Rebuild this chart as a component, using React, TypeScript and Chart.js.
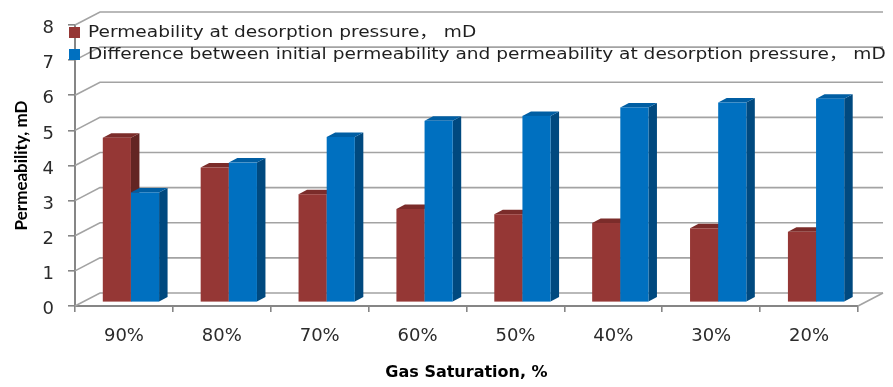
import React, { useEffect, useRef } from "react";
import { Chart, registerables } from "chart.js";

Chart.register(...registerables);

// Gas saturation categories and permeability values (mD)
const categories = ["90%", "80%", "70%", "60%", "50%", "40%", "30%", "20%"];
const desorptionPerm = [4.69, 3.84, 3.08, 2.66, 2.51, 2.26, 2.11, 2.01];
const permDifference = [3.13, 3.98, 4.71, 5.17, 5.31, 5.55, 5.69, 5.8];
const seriesLabels = [
  "Permeability at desorption pressure， mD",
  "Difference between initial permeability and permeability at desorption pressure， mD",
];
const yMin = 0;
const yMax = 8;
const yStep = 1;

// Face colours for the 3D columns: front, top, side
const redFaces = ["#953735", "#7b2c2a", "#632523"];
const blueFaces = ["#0070c0", "#005ea3", "#00497f"];

const FONT = "'DejaVu Sans', 'Noto Sans CJK SC'";

// Depth of the back wall and of the columns
const WALL_DX = 25;
const WALL_DY = -13;
const BAR_SHIFT_X = 7;
const BAR_SHIFT_Y = -3.6;
const BAR_DX = 8.5;
const BAR_DY = -4.5;

// Legend text is drawn slightly widened
const LEGEND_STRETCH = 1.16;

const faceSets = [redFaces, blueFaces];

const box3d = {
  id: "box3d",
  beforeDatasetsDraw(chart: any) {
    const { ctx, chartArea, scales } = chart;
    const y = scales.y;
    ctx.save();
    ctx.strokeStyle = "#a3a3a3";
    ctx.lineWidth = 1.6;
    y.ticks.forEach((t: any) => {
      const py = y.getPixelForValue(t.value);
      ctx.beginPath();
      ctx.moveTo(chartArea.left, py);
      ctx.lineTo(chartArea.left + WALL_DX, py + WALL_DY);
      ctx.lineTo(chartArea.right + WALL_DX, py + WALL_DY);
      ctx.stroke();
    });
    ctx.beginPath();
    ctx.moveTo(chartArea.right, chartArea.bottom);
    ctx.lineTo(chartArea.right + WALL_DX, chartArea.bottom + WALL_DY);
    ctx.stroke();
    ctx.restore();
  },
  beforeDatasetDraw() {
    return false;
  },
  afterDatasetsDraw(chart: any) {
    const ctx = chart.ctx;
    const n = chart.data.labels.length;
    ctx.save();
    for (let i = 0; i < n; i++) {
      chart.data.datasets.forEach((_ds: any, d: number) => {
        const el = chart.getDatasetMeta(d).data[i];
        const { x, y, base, width } = el.getProps(["x", "y", "base", "width"], true);
        const [front, top, side] = faceSets[d];
        const l = x - width / 2 + BAR_SHIFT_X;
        const r = x + width / 2 + BAR_SHIFT_X;
        const t = y + BAR_SHIFT_Y;
        const b = base + BAR_SHIFT_Y;
        // side face
        ctx.fillStyle = side;
        ctx.beginPath();
        ctx.moveTo(r, t);
        ctx.lineTo(r + BAR_DX, t + BAR_DY);
        ctx.lineTo(r + BAR_DX, b + BAR_DY);
        ctx.lineTo(r, b);
        ctx.closePath();
        ctx.fill();
        // top face
        ctx.fillStyle = top;
        ctx.beginPath();
        ctx.moveTo(l, t);
        ctx.lineTo(l + BAR_DX, t + BAR_DY);
        ctx.lineTo(r + BAR_DX, t + BAR_DY);
        ctx.lineTo(r, t);
        ctx.closePath();
        ctx.fill();
        // front face
        ctx.fillStyle = front;
        ctx.fillRect(l, t, r - l, b - t);
      });
    }
    ctx.restore();
  },
  afterDraw(chart: any) {
    const ctx = chart.ctx;
    const rows = [33, 55];
    chart.data.datasets.forEach((ds: any, d: number) => {
      const cy = rows[d];
      ctx.save();
      ctx.fillStyle = ds.backgroundColor;
      ctx.fillRect(69, cy - 6, 11, 11);
      ctx.translate(88, cy);
      ctx.scale(LEGEND_STRETCH, 1);
      ctx.font = `16px ${FONT}`;
      ctx.textBaseline = "middle";
      ctx.textAlign = "left";
      ctx.fillStyle = "#1f1f1f";
      ctx.fillText(ds.label, 0, 0);
      ctx.restore();
    });
  },
};

export default function App() {
  const ref = useRef<HTMLCanvasElement>(null);

  useEffect(() => {
    const canvas = ref.current;
    if (!canvas) return;
    const chart = new Chart(canvas, {
      type: "bar",
      data: {
        labels: categories,
        datasets: [
          { label: seriesLabels[0], data: desorptionPerm, backgroundColor: redFaces[0] },
          { label: seriesLabels[1], data: permDifference, backgroundColor: blueFaces[0] },
        ],
      },
      options: {
        responsive: false,
        animation: false,
        layout: { padding: { top: 25, right: 35, left: 0, bottom: 0 } },
        datasets: { bar: { categoryPercentage: 0.575, barPercentage: 1 } },
        plugins: { legend: { display: false }, tooltip: { enabled: false } },
        scales: {
          x: {
            grid: { drawOnChartArea: false, drawTicks: true, tickLength: 6, color: "#868686", lineWidth: 1.6 },
            border: { color: "#868686", width: 2 },
            ticks: { font: { family: FONT, size: 18 }, color: "#2b2b2b", padding: 14 },
            title: {
              display: true,
              text: "Gas Saturation, %",
              font: { family: FONT, size: 16, weight: "bold" },
              color: "#000000",
              padding: { top: 0, bottom: 5 },
            },
            afterFit: (s: any) => {
              s.height = 81;
            },
          },
          y: {
            min: yMin,
            max: yMax,
            ticks: {
              stepSize: yStep,
              font: { family: FONT, size: 18 },
              color: "#2b2b2b",
              padding: 14,
              labelOffset: 3.5,
            },
            grid: { drawOnChartArea: false, drawTicks: true, tickLength: 7, color: "#868686", lineWidth: 1.6 },
            border: { color: "#868686", width: 2 },
            title: {
              display: true,
              text: "Permeability, mD",
              font: { family: "Lato", size: 17, weight: "bold" },
              color: "#000000",
              padding: { top: 11, bottom: 0 },
            },
            afterFit: (s: any) => {
              s.width = 75;
            },
          },
        },
      },
      plugins: [box3d],
    } as any);
    return () => chart.destroy();
  }, []);

  return (
    <div style={{ position: "fixed", left: 0, top: 0, width: 893, height: 387, background: "#ffffff" }}>
      <canvas ref={ref} width={893} height={387} style={{ width: 893, height: 387, display: "block" }} />
    </div>
  );
}
